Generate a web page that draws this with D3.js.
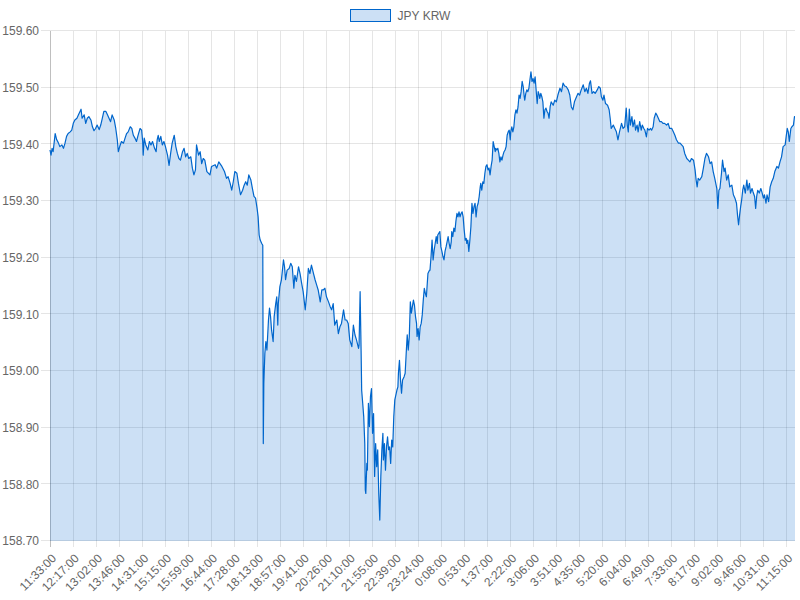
<!DOCTYPE html>
<html>
<head>
<meta charset="utf-8">
<script src="https://cdn.jsdelivr.net/npm/d3@7"></script>
<style>
  body { margin: 0; background: #fff; }
  svg { display: block; }
</style>
</head>
<body>
<div id="chart"></div>
<script>
// one reading per few minutes, minutes counted from 11:33:00 (1440 minutes in the day shown)
const seriesName = "JPY KRW";
const startLabel = "11:33:00";
const totalMinutes = 1440;

const offsets = [
  0, 2, 4, 6, 10, 13, 16, 19, 23, 26, 29, 32, 35, 39, 42, 45, 48, 52, 55, 58,
  60, 62, 66, 69, 72, 75, 79, 82, 85, 88, 91, 95, 98, 101, 104, 108, 111, 114, 117, 120,
  124, 127, 130, 132, 135, 138, 142, 145, 148, 151, 155, 158, 161, 164, 167, 171, 174, 177, 179, 180,
  182, 185, 189, 192, 195, 198, 202, 205, 207, 209, 211, 214, 217, 220, 223, 227, 230, 233, 236, 240,
  243, 246, 249, 252, 256, 259, 262, 265, 268, 272, 275, 278, 281, 283, 287, 290, 293, 296, 299,
  303, 309, 312, 319, 322, 326, 332, 337, 341, 344, 348, 351, 354, 357, 361, 364, 368, 372, 375, 378,
  381, 384, 388, 391, 394, 397, 400, 402, 404, 406, 409, 411, 412, 413, 415, 417, 419, 422, 424, 426,
  428, 431, 433, 436, 438, 440, 441, 444, 447, 451, 453, 455, 458, 462, 465, 468, 471, 473, 476, 480,
  483, 486, 489, 493, 496, 499, 502, 505, 509, 512, 515, 518, 522, 525, 528, 531, 534, 538, 541, 544,
  547, 550, 554, 557, 560, 563, 567,
  570, 573, 576, 579, 583, 586, 589, 592, 596, 597, 599, 601, 602, 604, 606, 608, 609, 610, 612, 613,
  615, 617, 619, 621, 623, 625, 627, 629, 631, 633, 635, 637, 639, 641, 643, 644, 646, 648, 650, 652,
  654, 656, 658, 660, 662, 664, 666, 670, 672, 673, 675, 677, 679, 681, 684, 686, 688, 690, 692, 694,
  696, 698, 700, 702, 704, 706, 708, 709, 711, 713, 715, 717, 719, 721, 723, 725, 727, 730, 733,
  734, 736, 738, 740, 742, 744, 746, 748, 749, 751, 753, 755, 757, 759, 761, 763, 765, 767, 769, 771,
  773, 775, 776, 778, 780, 782, 784, 786, 788, 790, 792, 794, 796, 798, 800, 802, 804, 805, 807, 809,
  811, 813, 815, 817, 819, 821, 823, 825, 827, 829, 831, 832, 834, 836, 838, 840, 842, 844, 846, 848,
  850, 852, 854, 856, 858, 860, 861, 863, 865, 867, 869, 871, 873, 875, 877, 879, 881, 883, 885, 887,
  889, 890, 892, 894, 896, 898, 900, 902, 904, 906, 908, 910, 912, 914, 916, 917, 919, 921, 923, 925,
  927, 929, 931, 933, 935, 937, 939, 941, 943, 945, 946, 948, 950, 952, 954, 956, 958, 960, 962, 964,
  966, 968, 972, 975, 978, 981, 985, 988, 991, 994, 997, 1001, 1004, 1007, 1010, 1013, 1017, 1020, 1023, 1026,
  1030, 1033, 1036, 1039, 1042, 1044, 1047, 1050, 1053, 1057, 1060, 1063, 1065, 1068, 1070, 1073, 1077, 1080, 1082, 1084,
  1088, 1091, 1094, 1097, 1100, 1104, 1107, 1110, 1113, 1115, 1117, 1119, 1121, 1124, 1126, 1129, 1131, 1134, 1136, 1139,
  1142, 1144, 1147, 1149, 1152, 1154, 1157, 1160, 1162, 1165, 1167, 1170, 1172, 1175, 1178, 1181, 1184, 1187, 1191, 1194,
  1197, 1201, 1204, 1207, 1210, 1214, 1217, 1220, 1223, 1226, 1230, 1233, 1236, 1239, 1243, 1246, 1248, 1250, 1252, 1255,
  1259, 1262, 1265, 1268, 1272, 1275, 1278, 1281, 1284, 1288, 1290, 1292, 1294, 1297, 1299, 1302, 1304, 1307, 1310, 1313,
  1317, 1320, 1323, 1326, 1328, 1330, 1332, 1334, 1336, 1338, 1340, 1343, 1346, 1348, 1351, 1353, 1356, 1358, 1361, 1363,
  1365, 1367, 1370, 1373, 1375, 1378, 1380, 1383, 1385, 1388, 1391, 1394, 1397, 1400, 1404, 1407, 1410, 1413, 1416, 1420,
  1422, 1424, 1426, 1428, 1431, 1433, 1436, 1438, 1439
];

const rates = [
  159.390, 159.381, 159.393, 159.387, 159.419, 159.408, 159.403, 159.396, 159.399, 159.393, 159.402, 159.414, 159.419, 159.422, 159.425, 159.437, 159.443, 159.446, 159.452, 159.458,
  159.462, 159.446, 159.452, 159.437, 159.446, 159.449, 159.443, 159.431, 159.424, 159.428, 159.434, 159.426, 159.434, 159.446, 159.458, 159.458, 159.452, 159.446, 159.440, 159.452,
  159.443, 159.428, 159.408, 159.387, 159.397, 159.405, 159.402, 159.411, 159.419, 159.422, 159.431, 159.428, 159.416, 159.411, 159.405, 159.419, 159.428, 159.425, 159.405, 159.381,
  159.411, 159.399, 159.390, 159.405, 159.399, 159.405, 159.393, 159.387, 159.408, 159.416, 159.405, 159.414, 159.399, 159.405, 159.396, 159.381, 159.363, 159.384, 159.402, 159.416,
  159.396, 159.384, 159.375, 159.372, 159.387, 159.393, 159.378, 159.384, 159.375, 159.378, 159.358, 159.346, 159.355, 159.399, 159.381, 159.387, 159.366, 159.375, 159.372,
  159.352, 159.346, 159.361, 159.364, 159.358, 159.369, 159.361, 159.352, 159.340, 159.343, 159.331, 159.319, 159.334, 159.352, 159.349, 159.331, 159.311, 159.319, 159.328, 159.334,
  159.328, 159.346, 159.337, 159.322, 159.308, 159.305, 159.287, 159.272, 159.240, 159.231, 159.225, 159.222, 158.872, 158.978, 159.031, 159.052, 159.037, 159.090, 159.111, 159.096,
  159.072, 159.052, 159.096, 159.119, 159.131, 159.081, 159.119, 159.149, 159.161, 159.196, 159.184, 159.161, 159.178, 159.181, 159.190, 159.184, 159.146, 159.169, 159.158, 159.184,
  159.172, 159.155, 159.140, 159.108, 159.137, 159.181, 159.172, 159.187, 159.172, 159.161, 159.152, 159.143, 159.122, 159.143, 159.143, 159.146, 159.131, 159.122, 159.114, 159.108,
  159.119, 159.081, 159.090, 159.066, 159.078, 159.084, 159.108,
  159.090, 159.090, 159.084, 159.055, 159.043, 159.081, 159.064, 159.055, 159.040, 159.046, 159.140, 159.031, 158.966, 158.943, 158.919, 158.872, 158.790, 158.784, 158.837, 158.825,
  158.943, 158.902, 158.955, 158.969, 158.890, 158.925, 158.814, 158.872, 158.831, 158.861, 158.784, 158.737, 158.814, 158.861, 158.890, 158.843, 158.872, 158.825, 158.866, 158.884,
  158.861, 158.866, 158.837, 158.878, 158.866, 158.919, 158.949, 158.966, 158.972, 158.996, 159.019, 158.984, 158.961, 158.984, 158.990, 158.996, 159.031, 159.064, 159.037, 159.061,
  159.122, 159.102, 159.114, 159.125, 159.116, 159.096, 159.084, 159.061, 159.075, 159.055, 159.078, 159.084, 159.099, 159.125, 159.146, 159.137, 159.131, 159.172, 159.178,
  159.178, 159.202, 159.231, 159.196, 159.213, 159.225, 159.237, 159.225, 159.240, 159.243, 159.246, 159.219, 159.211, 159.202, 159.196, 159.211, 159.219, 159.228, 159.237, 159.225,
  159.216, 159.228, 159.246, 159.237, 159.252, 159.246, 159.264, 159.278, 159.272, 159.281, 159.272, 159.278, 159.281, 159.272, 159.249, 159.231, 159.234, 159.225, 159.231, 159.211,
  159.231, 159.255, 159.296, 159.278, 159.290, 159.296, 159.272, 159.290, 159.296, 159.308, 159.325, 159.331, 159.319, 159.334, 159.331, 159.349, 159.361, 159.364, 159.355, 159.358,
  159.346, 159.361, 159.372, 159.405, 159.396, 159.387, 159.393, 159.390, 159.393, 159.384, 159.369, 159.378, 159.372, 159.381, 159.387, 159.390, 159.396, 159.416, 159.422, 159.425,
  159.408, 159.422, 159.431, 159.422, 159.431, 159.452, 159.461, 159.455, 159.466, 159.487, 159.481, 159.493, 159.511, 159.502, 159.484, 159.478, 159.490, 159.496, 159.493, 159.499,
  159.514, 159.528, 159.511, 159.516, 159.508, 159.519, 159.496, 159.472, 159.493, 159.487, 159.481, 159.490, 159.484, 159.475, 159.446, 159.461, 159.464, 159.458, 159.455, 159.446,
  159.466, 159.475, 159.469, 159.478, 159.475, 159.487, 159.499, 159.493, 159.508, 159.503, 159.502, 159.496, 159.487, 159.466, 159.461, 159.475, 159.484, 159.490, 159.487, 159.496,
  159.505, 159.493, 159.499, 159.490, 159.508, 159.512, 159.490, 159.493, 159.490, 159.496, 159.502, 159.499, 159.484, 159.478, 159.487, 159.472, 159.469, 159.461, 159.446, 159.428,
  159.434, 159.428, 159.422, 159.408, 159.422, 159.437, 159.428, 159.431, 159.464, 159.434, 159.422, 159.462, 159.434, 159.449, 159.431, 159.443, 159.425, 159.434, 159.422, 159.440,
  159.425, 159.434, 159.428, 159.425, 159.413, 159.428, 159.425, 159.428, 159.425, 159.431, 159.446, 159.455, 159.452, 159.446, 159.440, 159.440, 159.437, 159.437, 159.434, 159.437,
  159.428, 159.428, 159.422, 159.416, 159.408, 159.402, 159.402, 159.399, 159.396, 159.384, 159.375, 159.372, 159.369, 159.375, 159.372, 159.355, 159.337, 159.325, 159.340, 159.337,
  159.343, 159.358, 159.375, 159.384, 159.378, 159.366, 159.369, 159.352, 159.340, 159.322, 159.287, 159.319, 159.322, 159.349, 159.372, 159.352, 159.358, 159.337, 159.346, 159.325,
  159.328, 159.311, 159.305, 159.296, 159.275, 159.258, 159.275, 159.290, 159.302, 159.319, 159.328, 159.314, 159.337, 159.319, 159.331, 159.314, 159.322, 159.316, 159.308, 159.287,
  159.308, 159.319, 159.314, 159.322, 159.316, 159.305, 159.311, 159.296, 159.311, 159.299, 159.325, 159.334, 159.340, 159.352, 159.361, 159.358, 159.369, 159.378, 159.396, 159.399,
  159.414, 159.428, 159.422, 159.405, 159.428, 159.431, 159.434, 159.449, 159.449
];

const tickLabels = [
  "11:33:00", "12:17:00", "13:02:00", "13:46:00", "14:31:00", "15:15:00", "15:59:00", "16:44:00",
  "17:28:00", "18:13:00", "18:57:00", "19:41:00", "20:26:00", "21:10:00", "21:55:00", "22:39:00",
  "23:24:00", "0:08:00", "0:53:00", "1:37:00", "2:22:00", "3:06:00", "3:51:00", "4:35:00",
  "5:20:00", "6:04:00", "6:49:00", "7:33:00", "8:17:00", "9:02:00", "9:46:00", "10:31:00", "11:15:00"
];

const yTicks = [158.70, 158.80, 158.90, 159.00, 159.10, 159.20, 159.30, 159.40, 159.50, 159.60];

const lineColor = "#0066cc";
const fillColor = "rgba(0, 102, 204, 0.2)";
const gridColor = "rgba(0, 0, 0, 0.1)";
const textColor = "#666";
const fontFamily = "Arial, 'Liberation Sans', Helvetica, sans-serif";

const width = 800, height = 600;
const margin = {top: 31, right: 5, bottom: 59, left: 50};
const innerW = width - margin.left - margin.right;
const innerH = height - margin.top - margin.bottom;

function toMinutes(label) {
    let parts = label.split(":").map(Number);
    return parts[0] * 60 + parts[1];
}
const startMin = toMinutes(startLabel);
function offsetOf(label) {
    return (toMinutes(label) - startMin + 1440) % 1440;
}

const points = offsets.map((o, i) => ({t: o, v: rates[i]}));

const x = d3.scaleLinear().domain([0, totalMinutes - 1]).range([0, innerW]);
const y = d3.scaleLinear().domain([158.70, 159.60]).range([innerH, 0]);

const svg = d3.select("#chart").append("svg")
    .attr("width", width)
    .attr("height", height)
    .style("font-family", fontFamily);

const g = svg.append("g")
    .attr("transform", `translate(${margin.left},${margin.top})`);

// grid lines first, the fill sits on top of them like in the original
const snap = v => Math.round(v) + 0.5;

g.append("g").selectAll("line.vgrid")
    .data(tickLabels)
    .join("line")
    .attr("class", "vgrid")
    .attr("x1", d => snap(x(offsetOf(d))))
    .attr("x2", d => snap(x(offsetOf(d))))
    .attr("y1", 0)
    .attr("y2", innerH + 6)
    .attr("stroke", (d, i) => i === 0 ? "rgba(0,0,0,0.25)" : gridColor)
    .attr("stroke-width", 1);

g.append("g").selectAll("line.hgrid")
    .data(yTicks)
    .join("line")
    .attr("class", "hgrid")
    .attr("x1", -9)
    .attr("x2", innerW)
    .attr("y1", d => snap(y(d)) - 1)
    .attr("y2", d => snap(y(d)) - 1)
    .attr("stroke", gridColor)
    .attr("stroke-width", 1);

const area = d3.area()
    .x(d => x(d.t))
    .y0(innerH)
    .y1(d => y(d.v));

const line = d3.line()
    .x(d => x(d.t))
    .y(d => y(d.v));

g.append("path")
    .datum(points)
    .attr("d", area)
    .attr("fill", fillColor);

g.append("path")
    .datum(points)
    .attr("d", line)
    .attr("fill", "none")
    .attr("stroke", lineColor)
    .attr("stroke-width", 1.2)
    .attr("stroke-linejoin", "round");

// y labels
g.append("g").selectAll("text.ylab")
    .data(yTicks)
    .join("text")
    .attr("class", "ylab")
    .attr("x", -11)
    .attr("y", d => y(d))
    .attr("dy", "0.35em")
    .attr("text-anchor", "end")
    .attr("font-size", 12)
    .attr("fill", textColor)
    .text(d => d.toFixed(2));

// x labels, rotated
g.append("g").selectAll("text.xlab")
    .data(tickLabels)
    .join("text")
    .attr("class", "xlab")
    .attr("transform", d => `translate(${x(offsetOf(d)) + 4},${innerH + 15}) rotate(-45)`)
    .attr("dy", "0.35em")
    .attr("text-anchor", "end")
    .attr("font-size", 12)
    .attr("fill", textColor)
    .text(d => d);

// legend
const legend = svg.append("g").attr("transform", "translate(350.5,9.5)");
legend.append("rect")
    .attr("width", 40)
    .attr("height", 12)
    .attr("fill", fillColor)
    .attr("stroke", lineColor)
    .attr("stroke-width", 1);
legend.append("text")
    .attr("x", 47)
    .attr("y", 6)
    .attr("dy", "0.35em")
    .attr("font-size", 12)
    .attr("fill", textColor)
    .text(seriesName);
</script>
</body>
</html>
